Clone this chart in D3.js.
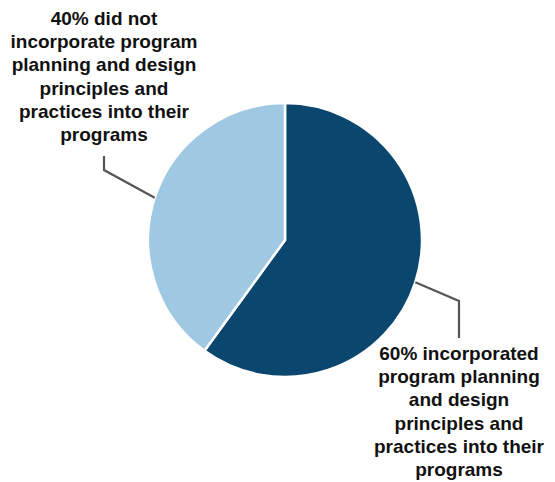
<!DOCTYPE html>
<html><head><meta charset="utf-8">
<script src="https://cdn.jsdelivr.net/npm/d3@7"></script>
<style>body{margin:0;background:#fff}svg{display:block}</style>
</head><body>
<script>
const categories = ["incorporated", "did not incorporate"];
const values = [60, 40];
const colors = ["#0b466e", "#9fc9e2"];
const labels = [
  ["60% incorporated", "program planning", "and design", "principles and", "practices into their", "programs"],
  ["40% did not", "incorporate program", "planning and design", "principles and", "practices into their", "programs"]
];

const W = 555, H = 482, cx = 285, cy = 240, R = 137;
const svg = d3.select("body").append("svg").attr("width", W).attr("height", H);
const g = svg.append("g").attr("transform", `translate(${cx},${cy})`);
const pie = d3.pie().sort(null).value(d => d);
const arcs = pie(values);
const arc = d3.arc().innerRadius(0).outerRadius(R);
g.selectAll("path.slice").data(arcs).join("path")
  .attr("d", arc).attr("fill", (d, i) => colors[i])
  .attr("stroke", "#fff").attr("stroke-width", 2.5);

// leader lines and labels
const elbow = [{x: 459, y: 301, ty: 338, tx: 459, base: 360}, {x: 104, y: 170, ty: 156, tx: 104, base: 25}];
arcs.forEach((a, i) => {
  const mid = (a.startAngle + a.endAngle) / 2;
  const px = cx + R * Math.sin(mid), py = cy - R * Math.cos(mid);
  const e = elbow[i];
  svg.append("polyline")
    .attr("points", `${px},${py} ${e.x},${e.y} ${e.x},${e.ty}`)
    .attr("fill", "none").attr("stroke", "#555").attr("stroke-width", 2.2);
  const t = svg.append("text").attr("text-anchor", "middle")
    .attr("font-family", "'Liberation Sans', Arial, sans-serif")
    .attr("font-weight", "bold").attr("font-size", 19).attr("fill", "#111");
  labels[i].forEach((ln, j) => {
    t.append("tspan").attr("x", e.tx).attr("y", e.base + j * 23.2).text(ln);
  });
});
</script>
</body></html>
